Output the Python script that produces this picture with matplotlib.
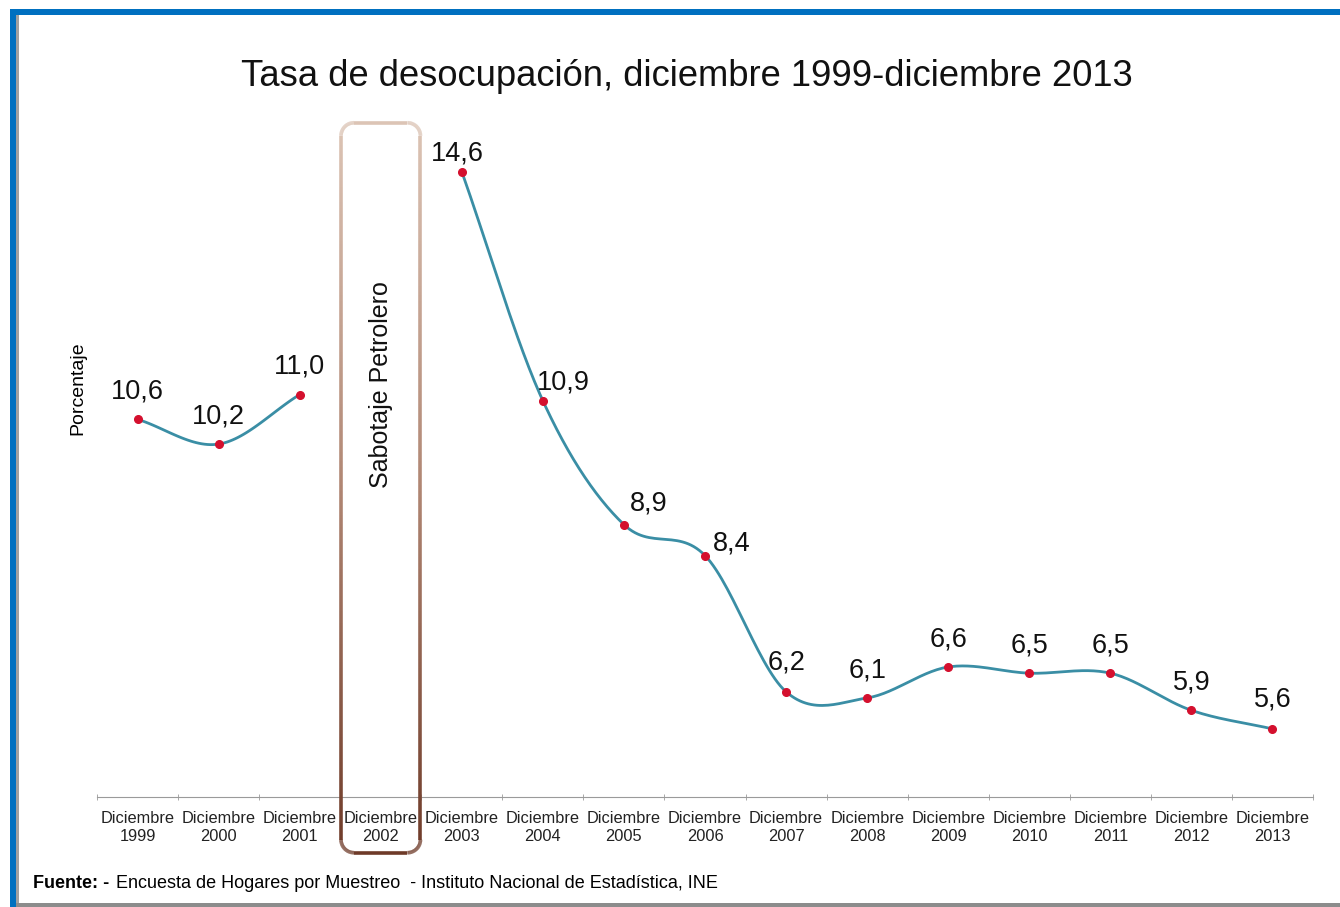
import numpy as np
import matplotlib
matplotlib.use("Agg")
import matplotlib.pyplot as plt
from matplotlib.collections import LineCollection
from matplotlib.colors import LinearSegmentedColormap
from matplotlib.transforms import IdentityTransform

plt.rcParams['font.family'] = ['Liberation Sans', 'DejaVu Sans']

# ------------------ DATOS ------------------
anios = ["1999", "2000", "2001", "2002", "2003", "2004", "2005", "2006",
         "2007", "2008", "2009", "2010", "2011", "2012", "2013"]
tasa = [10.6, 10.2, 11.0, None, 14.6, 10.9, 8.9, 8.4,
        6.2, 6.1, 6.6, 6.5, 6.5, 5.9, 5.6]
etiquetas = ["10,6", "10,2", "11,0", "", "14,6", "10,9", "8,9", "8,4",
             "6,2", "6,1", "6,6", "6,5", "6,5", "5,9", "5,6"]
# desplazamiento de las etiquetas (puntos)
dx_lab = [0, 0, 0, 0, -3, 15, 18, 19, 0, 0, 0, 0, 0, 0, 0]
dy_lab = [20, 20, 20, 0, 13, 13, 15, 9, 21, 20, 20, 20, 20, 20, 21]

W, H = 1340, 907
fig = plt.figure(figsize=(W / 100, H / 100), dpi=100)
ax = fig.add_axes([97 / W, 110 / H, (1313 - 97) / W, (822 - 110) / H])
ax.set_xlim(-0.5, 14.5)
ax.set_ylim(4.5, 16.0)

linea = "#3a8ea5"
rojo = "#d4102e"


# curva suavizada (Catmull-Rom) por tramos continuos
def suavizar(xs, ys, n=30):
    px = np.concatenate([[2 * xs[0] - xs[1]], xs, [2 * xs[-1] - xs[-2]]])
    py = np.concatenate([[2 * ys[0] - ys[1]], ys, [2 * ys[-1] - ys[-2]]])
    ox, oy = [], []
    for i in range(1, len(px) - 2):
        t = np.linspace(0, 1, n)
        for arr, out in ((px, ox), (py, oy)):
            p0, p1, p2, p3 = arr[i - 1], arr[i], arr[i + 1], arr[i + 2]
            out.extend(0.5 * ((2 * p1) + (-p0 + p2) * t +
                              (2 * p0 - 5 * p1 + 4 * p2 - p3) * t ** 2 +
                              (-p0 + 3 * p1 - 3 * p2 + p3) * t ** 3))
    return np.array(ox), np.array(oy)


tramo = []
for i, v in enumerate(tasa + [None]):
    if v is None:
        if len(tramo) > 1:
            xs = np.array([p[0] for p in tramo], float)
            ys = np.array([p[1] for p in tramo], float)
            sx, sy = suavizar(xs, ys)
            ax.plot(sx, sy, color=linea, lw=2.0, zorder=2)
        tramo = []
    else:
        tramo.append((i, v))

for i, v in enumerate(tasa):
    if v is None:
        continue
    ax.plot(i, v, "o", color=rojo, ms=5.5, zorder=3)
    ax.annotate(etiquetas[i], (i, v), xytext=(dx_lab[i], dy_lab[i]),
                textcoords="offset points", ha="center", va="center",
                fontsize=19.5, color="#111111")

# ejes
for s in ["top", "right", "left"]:
    ax.spines[s].set_visible(False)
ax.spines["bottom"].set_color("#9a9a9a")
ax.spines["bottom"].set_position(("data", 4.5))
ax.set_yticks([])
ax.set_xticks(range(len(anios)))
ax.set_xticklabels(["Diciembre\n" + a for a in anios], fontsize=11.8,
                   color="#222222", linespacing=1.3)
ax.tick_params(axis="x", which="major", length=0, pad=10)
ax.set_xticks(np.arange(-0.5, 15, 1), minor=True)
ax.tick_params(axis="x", which="minor", length=5, direction="inout",
               color="#9a9a9a")

fig.text(78 / W, 1 - 388 / H, "Porcentaje", rotation=90, ha="center",
         va="center", fontsize=14)
fig.text(687 / W, 1 - 76 / H, "Tasa de desocupación, diciembre 1999-diciembre 2013",
         ha="center", va="center", fontsize=26.2, color="#111111")

# recuadro "Sabotaje Petrolero" con borde degradado
x0, y0 = ax.transData.transform((2.51, 3.6))
x1, y1 = ax.transData.transform((3.49, 15.39))
r = 13
pts = []
for cx, cy, a0 in [(x1 - r, y1 - r, 0), (x0 + r, y1 - r, 90),
                   (x0 + r, y0 + r, 180), (x1 - r, y0 + r, 270)]:
    ang = np.radians(np.linspace(a0, a0 + 90, 20))
    pts.extend(zip(cx + r * np.cos(ang), cy + r * np.sin(ang)))
pts.append(pts[0])
pts = np.array(pts)
dens = []
for a, b in zip(pts[:-1], pts[1:]):
    k = max(2, int(np.hypot(*(b - a)) / 3))
    dens.extend(np.linspace(a, b, k, endpoint=False))
dens.append(pts[0])
dens = np.array(dens)
segs = np.stack([dens[:-1], dens[1:]], axis=1)
cmap = LinearSegmentedColormap.from_list("borde", ["#6e3a28", "#b08673", "#dcc4b5"])
ymid = (segs[:, 0, 1] + segs[:, 1, 1]) / 2
lc = LineCollection(segs, cmap=cmap, linewidths=2.6, transform=IdentityTransform())
lc.set_array((ymid - y0) / (y1 - y0))
lc.set_clim(0, 1)
fig.add_artist(lc)
fig.text(381 / W, 1 - 385 / H, "Sabotaje Petrolero", rotation=90, ha="center",
         va="center", fontsize=18, color="#111111")

# fuente
fig.text(33 / W, 1 - 884 / H, "Fuente: -", fontsize=13, fontweight="bold",
         ha="left", va="center")
fig.text(116 / W, 1 - 884 / H,
         "Encuesta de Hogares por Muestreo  - Instituto Nacional de Estadística, INE",
         fontsize=13, ha="left", va="center")

# marco
azul = "#0070c0"
fig.add_artist(plt.Rectangle((10 / W, 0), 6 / W, 1 - 9 / H, color=azul,
                             transform=fig.transFigure, lw=0))
fig.add_artist(plt.Rectangle((10 / W, 1 - 15 / H), 1 - 10 / W, 6 / H, color=azul,
                             transform=fig.transFigure, lw=0))
fig.add_artist(plt.Rectangle((16 / W, 0), 3 / W, 1 - 15 / H, color="#a0a0a0",
                             transform=fig.transFigure, lw=0))
fig.add_artist(plt.Rectangle((16 / W, 0), 1, 4 / H, color="#8c8c8c",
                             transform=fig.transFigure, lw=0))

fig.savefig("out.png", dpi=100)
